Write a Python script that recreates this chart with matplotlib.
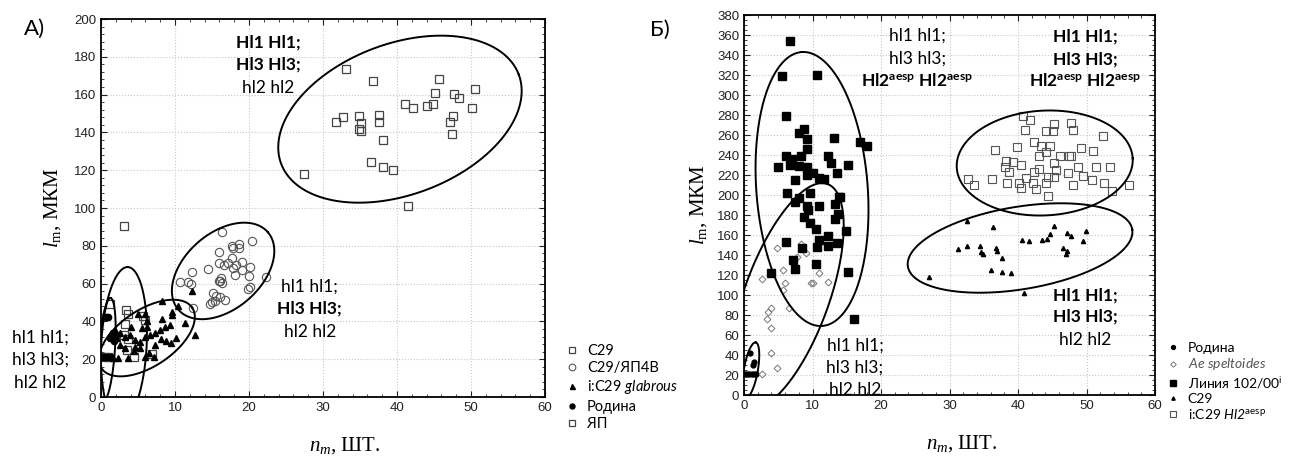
import numpy as np
import matplotlib
matplotlib.use('Agg')
import matplotlib.pyplot as plt
from matplotlib.ticker import MultipleLocator

plt.rcParams['font.family'] = ['Lato', 'Noto Sans', 'DejaVu Sans']
plt.rcParams['mathtext.fontset'] = 'custom'
plt.rcParams['mathtext.rm'] = 'Liberation Serif'
plt.rcParams['mathtext.it'] = 'Liberation Serif:italic'
plt.rcParams['mathtext.bf'] = 'Lato:bold'
plt.rcParams['mathtext.sf'] = 'Lato:italic'
plt.rcParams['mathtext.tt'] = 'Lato'

# ---------------- panel A data ----------------
a_c29_x = [3.1, 1.2, 3.4, 3.6, 5.7, 6.0, 3.3, 3.1, 3.7, 3.5, 6.9, 0.5, 1.0, 4.4]
a_c29_y = [90.5, 49, 46, 44, 42.8, 40.7, 38.6, 32.8, 30.8, 24.9, 22.8, 21, 21, 21]

a_yap4v_x = [16.4, 17.7, 18.7, 17.9, 18.6, 20.4, 15.9, 17.7, 19.1, 17.1, 15.9, 16.6, 18.3,
             17.9, 19.1, 14.5, 20.1, 12.3, 20.0, 22.3, 18.1, 16.2, 16.1, 11.7, 12.1, 16.4,
             15.9, 20.2, 19.9, 15.1, 15.5, 16.1, 15.0, 15.4, 16.8, 14.7, 12.4, 10.7]
a_yap4v_y = [87.1, 80, 80.8, 79, 79, 82.5, 76.9, 73.7, 71.6, 70.7, 71, 69.8, 69.8,
             68.1, 67.2, 67.5, 68.9, 66, 64, 63.7, 64.6, 63.1, 61.5, 60.7, 59.8, 60.2,
             61.5, 58, 57, 54.9, 53.4, 52.8, 50.4, 51, 51.3, 49, 47.2, 61]

a_glab_x = [5.05, 5.95, 6.2, 8.2, 9.6, 11.3, 8.3, 10.4, 8.8, 9.5, 8.1, 7.2, 5.9, 6.5, 4.4,
            3.6, 2.3, 1.6, 1.9, 2.6, 3.2, 3.9, 4.6, 5.3, 5.9, 6.6, 7.3, 8.0, 8.6, 9.3,
            4.6, 5.3, 3.2, 2.6, 5.5, 6.2, 4.1, 2.1, 1.4, 10.2, 7.3, 12.3, 12.7, 9.6]
a_glab_y = [43.7, 43.7, 40.4, 41.1, 43.4, 39, 50.8, 48.1, 29.5, 28.7, 30.5, 21, 21, 23.4, 24.2,
            20.6, 20.6, 20.6, 35.4, 33.7, 31.9, 32.8, 30.2, 29.3, 31.9, 32.8, 33.7, 35.4, 36.9, 38.1,
            26.6, 25.7, 25.7, 27.5, 36.3, 37.2, 37.2, 31, 33.7, 31, 27.5, 56.1, 32.8, 44.8]

a_rod_x = [0.7, 1.0, 1.2, 1.7, 0.2, 0.6, 1.0, 1.4, 2.0]
a_rod_y = [42.2, 42.5, 31, 29.8, 21, 21, 21, 21, 33]

a_yap_x = [33.1, 36.7, 45.7, 45.1, 47.7, 48.4, 50.5, 41.1, 42.1, 44.1, 44.8, 50.1, 47.5, 47.1,
           47.4, 31.7, 32.7, 34.8, 35.1, 34.8, 35.2, 37.5, 37.5, 38.1, 36.5, 38.1, 39.4, 41.5, 27.5]
a_yap_y = [173.7, 167, 168.4, 161, 160.3, 158.4, 163, 155, 153, 154, 155, 153, 148.8, 145.5,
           139.3, 145.5, 148, 148.7, 144.8, 142, 140.7, 149.4, 145.5, 136, 124.3, 121.9, 120.3, 101.2, 117.8]

# ellipses: centre x, centre y, semi-axes (x units), angle (deg, on screen)
a_ell_cx = [40.4, 16.5, 6.2, 3.1, 0.8]
a_ell_cy = [147, 66.7, 31.2, 27.5, 25]
a_ell_a = [17.15, 8.0, 7.37, 10.55, 7.0]
a_ell_b = [10.19, 5.14, 3.81, 3.07, 1.08]
a_ell_ang = [20.6, 40.9, 33.8, 87.1, 86]

# ---------------- panel B data ----------------
b_rod_x = [0.9, 1.5, 1.3, 0.2, 0.5, 0.8, 1.1, 1.4, 1.8]
b_rod_y = [42, 33, 30, 21.5, 21.5, 21.5, 21.5, 21.5, 21.5]

b_ae_x = [4.8, 8.3, 9.1, 7.8, 5.7, 6.0, 2.7, 9.8, 10.0, 12.2, 11.0, 5.7, 6.6, 3.9, 3.5, 3.4, 4.0, 3.9, 4.8, 2.7]
b_ae_y = [147, 151, 142, 138, 125, 112, 116, 112, 112, 113, 122, 105, 87, 87, 83, 76, 67, 42, 27, 21]

b_lin_x = [6.7, 5.6, 10.6, 6.1, 8.0, 8.7, 9.2, 9.2, 13.2, 17.0, 17.9, 6.1, 7.0, 8.3, 12.3, 5.0,
           6.7, 8.0, 9.2, 12.7, 15.2, 9.2, 10.1, 11.0, 11.7, 13.6, 7.4, 6.3, 9.6, 13.9, 7.4, 8.1,
           11.0, 9.2, 9.4, 13.3, 14.0, 13.7, 13.3, 8.7, 9.6, 10.5, 14.9, 12.3, 11.0, 13.6, 12.3,
           10.6, 8.4, 6.1, 7.1, 7.4, 10.5, 4.0, 15.2, 16.1]
b_lin_y = [354, 319, 320, 279, 262, 266, 256, 246, 257, 253, 249, 239, 236, 239, 239, 228,
           230, 229, 228, 232, 230, 220, 222, 217, 216, 222, 215, 202, 202, 198, 193, 197,
           189, 189, 185, 191, 198, 181, 176, 178, 172, 166, 164, 159, 155, 152, 149,
           148, 147, 153, 135, 126, 131, 122, 123, 76]

b_c29_x = [27, 31.3, 32.5, 32.6, 34.4, 34.6, 34.9, 36.8, 36.9, 36.3, 36, 37.7, 39, 37.7,
           40.6, 41.6, 43.5, 44.3, 44.7, 45.3, 47.2, 47.7, 46.6, 47, 47.1, 49.5, 49.9, 40.9]
b_c29_y = [118, 146, 149, 174, 149, 143, 141, 147, 144, 168, 125, 123, 122, 137,
           155, 154, 155, 156, 161, 169, 162, 159, 147, 141, 144, 154, 164, 102]

b_hl2_x = [40.8, 41.8, 41.0, 45.2, 47.8, 48.0, 44.1, 45.1, 52.4, 36.6, 39.8, 42.3, 43.4, 44.7,
           43.1, 44.1, 46.1, 47.4, 47.8, 49.2, 51.0, 38.2, 39.3, 40.4, 38.1, 38.7, 45.3, 43.1,
           42.3, 44.4, 45.3, 45.6, 47.3, 48.7, 51.4, 53.4, 49.5, 50.8, 32.7, 33.6, 36.2, 38.4,
           40.2, 40.5, 41.1, 42.2, 42.6, 44.1, 44.4, 48.0, 52.6, 53.7, 56.2]
b_hl2_y = [279, 275, 265, 271, 272, 265, 264, 264, 259, 245, 248, 253, 249, 249,
           239, 243, 239, 239, 239, 247, 244, 234, 233, 230, 228, 223, 232, 226,
           223, 218, 218, 225, 222, 228, 228, 228, 219, 215, 216, 210, 216, 212,
           212, 207, 217, 212, 206, 212, 199, 210, 212, 204, 210]

b_ell_cx = [9.93, 6.22, 43.9, 40.3, 1.0]
b_ell_cy = [206, 98.5, 232, 147, 25]
b_ell_a = [20.05, 17.47, 12.86, 16.6, 4.09]
b_ell_b = [8.13, 6.19, 7.65, 6.02, 1.02]
b_ell_ang = [94.3, 70, 3, 9.4, 80]

W, H = 1301, 461
fig = plt.figure(figsize=(W / 100, H / 100), dpi=100)
axA = fig.add_axes([101 / W, 1 - 397 / H, 444 / W, 378 / H])
axB = fig.add_axes([744 / W, 1 - 395 / H, 411 / W, 380 / H])


def ellipse(ax, cx, cy, a, b, ang, s):
    t = np.linspace(0, 2 * np.pi, 400)
    u, v = a * np.cos(t), b * np.sin(t)
    r = np.deg2rad(ang)
    x = cx + u * np.cos(r) - v * np.sin(r)
    y = cy + (u * np.sin(r) + v * np.cos(r)) * s
    ax.plot(x, y, color='black', lw=1.4)


def style(ax, ymax, ymaj, ymin):
    ax.set_xlim(0, 60)
    ax.set_ylim(0, ymax)
    ax.xaxis.set_major_locator(MultipleLocator(10))
    ax.xaxis.set_minor_locator(MultipleLocator(2))
    ax.yaxis.set_major_locator(MultipleLocator(ymaj))
    ax.yaxis.set_minor_locator(MultipleLocator(ymin))
    ax.grid(True, which='major', ls=':', color='#c8c8c8', lw=0.8)
    ax.tick_params(which='both', direction='in', top=True, right=True,
                   labelsize=9.5, colors='#222222')
    ax.tick_params(which='major', length=4)
    ax.tick_params(which='minor', length=2)
    for lab in ax.get_xticklabels() + ax.get_yticklabels():
        lab.set_family('Liberation Sans')
    for sp in ax.spines.values():
        sp.set_linewidth(1.3)


# ---------------- panel A ----------------
style(axA, 200, 20, 4)
sA = (444 / 60) / (378 / 200)
axA.plot(a_c29_x, a_c29_y, 's', mfc='none', mec='#444444', ms=5.5, mew=0.9, label='C29')
axA.plot(a_yap4v_x, a_yap4v_y, 'o', mfc='none', mec='#555555', ms=6, mew=0.8, label='C29/ЯП4В')
axA.plot(a_glab_x, a_glab_y, '^', color='black', ms=4.5, label=r'i:C29 $\mathsf{glabrous}$')
axA.plot(a_rod_x, a_rod_y, 'o', color='black', ms=4.5, label='Родина')
axA.plot(a_yap_x, a_yap_y, 's', mfc='none', mec='#444444', ms=5.5, mew=0.9, label='ЯП')
for i in range(len(a_ell_cx)):
    ellipse(axA, a_ell_cx[i], a_ell_cy[i], a_ell_a[i], a_ell_b[i], a_ell_ang[i], sA)

axA.set_xlabel(r'$n_m$, ШТ.', family='Liberation Serif', fontsize=15)
axA.xaxis.set_label_coords(0.55, -0.1)
axA.set_ylabel(r'$l_{\mathrm{m}}$, МКМ', family='Liberation Serif', fontsize=15, labelpad=8)

fs = 12.5
axA.text(22.6, 187.8, 'Hl1 Hl1;', ha='center', va='center', fontsize=fs, weight='bold')
axA.text(22.6, 175.7, 'Hl3 Hl3;', ha='center', va='center', fontsize=fs, weight='bold')
axA.text(22.6, 163.5, 'hl2 hl2', ha='center', va='center', fontsize=fs)
axA.text(28.2, 58.2, 'hl1 hl1;', ha='center', va='center', fontsize=fs)
axA.text(28.2, 46.6, 'Hl3 Hl3;', ha='center', va='center', fontsize=fs, weight='bold')
axA.text(28.2, 34.4, 'hl2 hl2', ha='center', va='center', fontsize=fs)
axA.text(-8.2, 31.2, 'hl1 hl1;', ha='center', va='center', fontsize=fs)
axA.text(-8.2, 19.6, 'hl3 hl3;', ha='center', va='center', fontsize=fs)
axA.text(-8.2, 7.4, 'hl2 hl2', ha='center', va='center', fontsize=fs)
fig.text(35 / W, 1 - 29 / H, 'A)', ha='center', va='center', fontsize=16)

legA = axA.legend(loc='upper left', bbox_to_anchor=(565 / W, 1 - 344 / H),
                  bbox_transform=fig.transFigure, frameon=False, fontsize=10.5,
                  handlelength=1, handletextpad=0.5, labelspacing=0.22,
                  borderpad=0, borderaxespad=0, markerscale=0.8)

# ---------------- panel B ----------------
style(axB, 380, 20, 5)
sB = (411 / 60) / (380 / 380)
axB.plot(b_rod_x, b_rod_y, 'o', color='black', ms=3.5, label='Родина')
axB.plot(b_ae_x, b_ae_y, 'D', mfc='none', mec='#777777', ms=3.5, mew=0.7,
         label=r'$\mathsf{Ae\ speltoides}$')
axB.plot(b_lin_x, b_lin_y, 's', color='black', ms=5.5, label=r'Линия 102/00$^{\mathtt{i}}$')
axB.plot(b_c29_x, b_c29_y, '^', color='black', ms=3, label='C29')
axB.plot(b_hl2_x, b_hl2_y, 's', mfc='none', mec='#555555', ms=5.5, mew=0.8,
         label=r'i:C29 $\mathsf{Hl2}^{\mathtt{aesp}}$')
for i in range(len(b_ell_cx)):
    ellipse(axB, b_ell_cx[i], b_ell_cy[i], b_ell_a[i], b_ell_b[i], b_ell_ang[i], sB)

axB.set_xlabel(r'$n_m$, ШТ.', family='Liberation Serif', fontsize=15)
axB.xaxis.set_label_coords(0.53, -0.1)
axB.set_ylabel(r'$l_{\mathrm{m}}$, МКМ', family='Liberation Serif', fontsize=15, labelpad=6)

aesp = r'$\mathbf{Hl2}^{\mathbf{aesp}}\ \mathbf{Hl2}^{\mathbf{aesp}}$'
axB.text(25.3, 359, 'hl1 hl1;', ha='center', va='center', fontsize=fs)
axB.text(25.3, 336, 'hl3 hl3;', ha='center', va='center', fontsize=fs)
axB.text(25.3, 314, aesp, ha='center', va='center', fontsize=fs)
axB.text(49.8, 358, 'Hl1 Hl1;', ha='center', va='center', fontsize=fs, weight='bold')
axB.text(49.8, 335, 'Hl3 Hl3;', ha='center', va='center', fontsize=fs, weight='bold')
axB.text(49.8, 315, aesp, ha='center', va='center', fontsize=fs)
axB.text(16.2, 49, 'hl1 hl1;', ha='center', va='center', fontsize=fs)
axB.text(16.2, 27, 'hl3 hl3;', ha='center', va='center', fontsize=fs)
axB.text(16.2, 5, 'hl2 hl2', ha='center', va='center', fontsize=fs)
axB.text(49.8, 99, 'Hl1 Hl1;', ha='center', va='center', fontsize=fs, weight='bold')
axB.text(49.8, 78, 'Hl3 Hl3;', ha='center', va='center', fontsize=fs, weight='bold')
axB.text(49.8, 55, 'hl2 hl2', ha='center', va='center', fontsize=fs)
fig.text(660 / W, 1 - 30 / H, 'Б)', ha='center', va='center', fontsize=16)

legB = axB.legend(loc='upper left', bbox_to_anchor=(1166 / W, 1 - 342 / H),
                  bbox_transform=fig.transFigure, frameon=False, fontsize=10,
                  handlelength=1, handletextpad=0.55, labelspacing=0.17,
                  borderpad=0, borderaxespad=0, markerscale=0.8)
legB.get_texts()[1].set_color('#555555')

fig.savefig('out.png', dpi=100)
